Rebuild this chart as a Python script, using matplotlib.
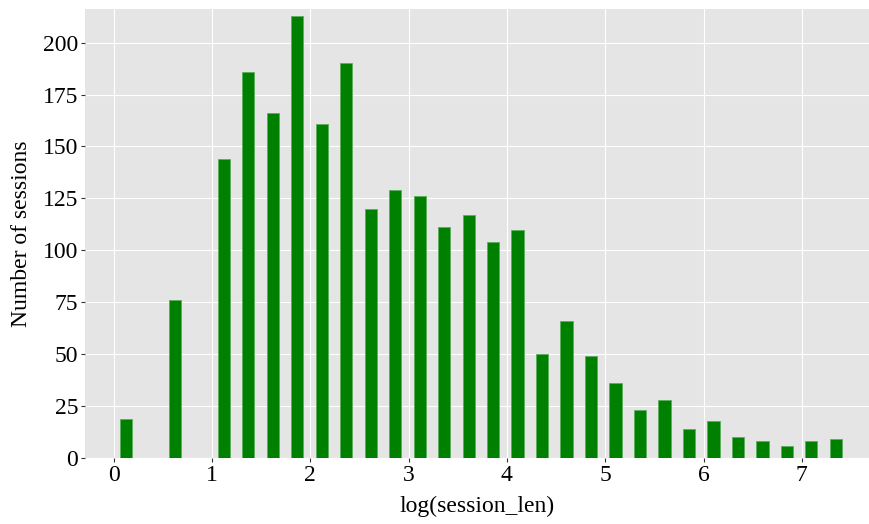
import numpy as np
import matplotlib
matplotlib.use("Agg")
import matplotlib.pyplot as plt

# histogram of log(session_len): 30 bins from 0 up to the max value
bin_lo = 0.0
bin_hi = 7.47
n_bins = 30
counts = [19, 0, 76, 0, 144, 186, 166, 213, 161, 190,
          120, 129, 126, 111, 117, 104, 110, 50, 66, 49,
          36, 23, 28, 14, 18, 10, 8, 6, 8, 9]
y_ticks = [0, 25, 50, 75, 100, 125, 150, 175, 200]
x_ticks = [0, 1, 2, 3, 4, 5, 6, 7]

edges = np.linspace(bin_lo, bin_hi, n_bins + 1)
centers = (edges[:-1] + edges[1:]) / 2
bw = edges[1] - edges[0]

plt.rcParams['font.family'] = ['Liberation Serif', 'DejaVu Serif']

fig = plt.figure(figsize=(8.69, 5.24), dpi=100)
ax = fig.add_axes([85 / 869, 66 / 524, 784 / 869, 449 / 524])
ax.set_facecolor('#e5e5e5')

ax.bar(centers, counts, width=bw * 0.5, color='#008000',
       edgecolor='#5cae5c', linewidth=0.6, zorder=3)

ax.set_xlim(-0.292, 7.683)
ax.set_ylim(0, 216.2)
ax.set_xticks(x_ticks)
ax.set_yticks(y_ticks)
ax.grid(True, color='white', linewidth=0.8, zorder=0)
ax.set_axisbelow(True)
for s in ax.spines.values():
    s.set_visible(False)

ax.tick_params(axis='both', length=3, width=0.8, color='#333333',
               labelsize=17, labelcolor='black', pad=2)

ax.set_xlabel('log(session_len)', fontsize=17, labelpad=7)
ax.set_ylabel('Number of sessions', fontsize=17, labelpad=8)

fig.savefig('out.png', dpi=100)
